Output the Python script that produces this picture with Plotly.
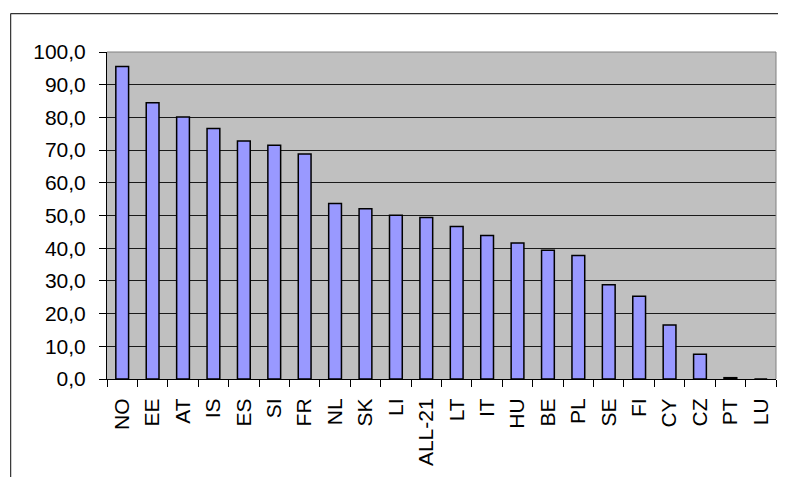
import plotly.graph_objects as go

categories = ["NO", "EE", "AT", "IS", "ES", "SI", "FR", "NL", "SK", "LI", "ALL-21",
              "LT", "IT", "HU", "BE", "PL", "SE", "FI", "CY", "CZ", "PT", "LU"]
values = [95.6, 84.5, 80.1, 76.6, 72.8, 71.5, 68.8, 53.7, 52.1, 50.1, 49.4,
          46.6, 43.9, 41.6, 39.4, 37.8, 28.8, 25.3, 16.5, 7.6, 0.4, 0.0]
y_ticks = [0, 10, 20, 30, 40, 50, 60, 70, 80, 90, 100]
y_tick_labels = ["0,0", "10,0", "20,0", "30,0", "40,0", "50,0", "60,0", "70,0", "80,0", "90,0", "100,0"]

# page body has an 8px default margin
OFF = 8
W, H = 786 - 2 * OFF, 485 - 2 * OFF
ML, MT = 106.5 - OFF, 51.5 - OFF
MR = 1.5
MB = H - (379 - OFF)
pw = W - ML - MR
ph = H - MT - MB

fig = go.Figure(go.Bar(
    x=categories, y=values,
    marker=dict(color="#9999FF", line=dict(color="#000000", width=1.5)),
))

font = dict(family="Liberation Sans, Arial, sans-serif", size=21, color="#000000")

frame_x = (10 - OFF - ML) / pw
frame_y = (H - MB - (13 - OFF)) / ph

fig.update_layout(
    width=W, height=H,
    margin=dict(l=ML, r=MR, t=MT, b=MB, pad=0),
    paper_bgcolor="#FFFFFF",
    plot_bgcolor="#C0C0C0",
    bargap=0.58,
    showlegend=False,
    font=font,
    xaxis=dict(
        type="category", range=[-0.5, len(categories) - 0.5],
        tickangle=-90, tickson="boundaries",
        ticks="outside", ticklen=7, tickcolor="#000000", tickwidth=1,
        showline=True, linecolor="#000000", linewidth=1,
        showgrid=False, tickfont=font, ticklabelstandoff=10,
    ),
    yaxis=dict(
        range=[0, 100], tickvals=y_ticks, ticktext=y_tick_labels,
        ticks="outside", ticklen=7, tickcolor="#000000", tickwidth=1,
        showline=True, linecolor="#000000", linewidth=1,
        showgrid=True, gridcolor="#1a1a1a", gridwidth=1,
        zeroline=False, tickfont=font, ticklabelstandoff=9,
    ),
    shapes=[
        dict(type="line", xref="paper", yref="paper", x0=0, x1=1, y0=1, y1=1,
             line=dict(color="#808080", width=1), layer="above"),
        dict(type="line", xref="paper", yref="paper", x0=1, x1=1, y0=0, y1=1,
             line=dict(color="#808080", width=1), layer="above"),
        dict(type="line", xref="paper", yref="paper",
             x0=frame_x, x1=(W + 5 - ML) / pw, y0=frame_y, y1=frame_y,
             line=dict(color="#333333", width=1.2)),
        dict(type="line", xref="paper", yref="paper",
             x0=frame_x, x1=frame_x, y0=frame_y, y1=(H - MB - H - 5) / ph,
             line=dict(color="#333333", width=1.2)),
    ],
)

fig.write_html("out.html")
